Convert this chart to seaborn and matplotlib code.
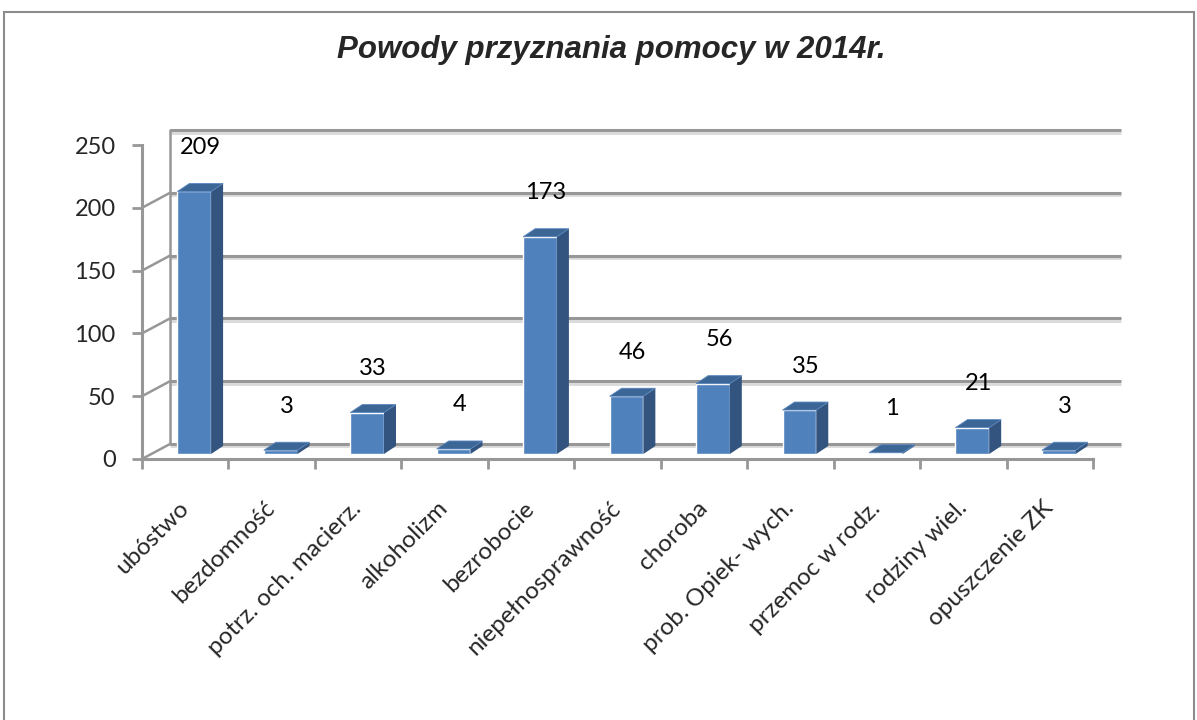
import matplotlib
matplotlib.use("Agg")
import matplotlib.pyplot as plt
import matplotlib.transforms as mtransforms
from matplotlib.patches import Polygon, Rectangle
import pandas as pd
import seaborn as sns

categories = ["ubóstwo", "bezdomność", "potrz. och. macierz.", "alkoholizm",
              "bezrobocie", "niepełnosprawność", "choroba", "prob. Opiek- wych.",
              "przemoc w rodz.", "rodziny wiel.", "opuszczenie ZK"]
values = [209, 3, 33, 4, 173, 46, 56, 35, 1, 21, 3]
yticks = [0, 50, 100, 150, 200, 250]
title = "Powody przyznania pomocy w 2014r."

df = pd.DataFrame({"powod": categories, "liczba": values})

sns.set_style("white")
plt.rcParams["font.family"] = ["Lato", "DejaVu Sans"]

W, H = 1197, 720
fig = plt.figure(figsize=(W / 100, H / 100), dpi=100)
fig.patch.set_facecolor("white")

# chart frame
fig.patches.append(Rectangle((4 / W, -0.05), 1190 / W, 1.05 - 12 / H,
                             transform=fig.transFigure, fill=False,
                             edgecolor="#8c8c8c", linewidth=1.5))

ax = fig.add_axes([142 / W, 1 - 459 / H, 951 / W, 314 / H])
ax.set_facecolor("none")

n = len(categories)
sns.barplot(data=df, x="powod", y="liczba", color="#4F81BD", width=0.39,
            saturation=1, ax=ax, zorder=3)
ax.set_xlim(-0.5, n - 0.5)
ax.set_ylim(0, 250)

grid_c = "#979797"
px = fig.dpi_scale_trans
back = ax.transData + mtransforms.ScaledTranslation(28 / 100, 15 / 100, px)
shadow = ax.transData + mtransforms.ScaledTranslation(28 / 100, 12.5 / 100, px)
bar_off = ax.transData + mtransforms.ScaledTranslation(9 / 100, 5 / 100, px)

# back wall gridlines + left wall diagonals
for t in yticks:
    ax.plot([-0.5, n - 0.5], [t, t], transform=shadow, color="#d9d9d9", lw=2,
            zorder=0, clip_on=False, solid_capstyle="butt")
    ax.plot([-0.5, n - 0.5], [t, t], transform=back, color=grid_c, lw=2.2,
            zorder=0, clip_on=False, solid_capstyle="butt")
    p0 = ax.transData.transform((-0.5, t))
    p1 = back.transform((-0.5, t))
    ax.add_line(plt.Line2D([p0[0], p1[0]], [p0[1], p1[1]], transform=None,
                           color=grid_c, lw=1.8, zorder=0))
# back left vertical edge
ax.plot([-0.5, -0.5], [0, 250], transform=back, color=grid_c, lw=1.8,
        zorder=0, clip_on=False)
# right floor edge
p0 = ax.transData.transform((n - 0.5, 0))
p1 = back.transform((n - 0.5, 0))
ax.add_line(plt.Line2D([p0[0], p1[0]], [p0[1], p1[1]], transform=None,
                       color=grid_c, lw=1.8, zorder=0))

dx, dy = 12, 8
for patch, v in zip(list(ax.patches), values):
    patch.set_transform(bar_off)
    patch.set_clip_on(False)
    x0, w, h = patch.get_x(), patch.get_width(), patch.get_height()
    br = bar_off.transform((x0 + w, 0))
    tl = bar_off.transform((x0, h))
    tr = bar_off.transform((x0 + w, h))
    side = [br, tr, (tr[0] + dx, tr[1] + dy), (br[0] + dx, br[1] + dy)]
    top = [tl, tr, (tr[0] + dx, tr[1] + dy), (tl[0] + dx, tl[1] + dy)]
    ax.add_patch(Polygon(side, closed=True, transform=None, facecolor="#32547F",
                         edgecolor="none", zorder=4, clip_on=False))
    ax.add_patch(Polygon(top, closed=True, transform=None, facecolor="#3B6696",
                         edgecolor="#5a87bf", lw=0.6, zorder=4, clip_on=False))
    ax.annotate(str(v), xy=(x0 + w / 2, h), xycoords=bar_off,
                xytext=(6, 44), textcoords="offset pixels",
                ha="center", va="center", fontsize=17, color="black")

ax.set_yticks(yticks)
ax.set_yticklabels([str(t) for t in yticks], fontsize=17)
ax.set_xticks(range(n))
ax.set_xticklabels(categories, rotation=45, ha="right", va="center",
                   rotation_mode="anchor", fontsize=17.5)
for lbl in ax.get_xticklabels():
    lbl.set_transform(lbl.get_transform()
                      + mtransforms.ScaledTranslation(-7 / 100, 2 / 100, px))
ax.set_xticks([i - 0.5 for i in range(n + 1)], minor=True)
ax.tick_params(axis="x", which="major", length=0, pad=33)
ax.tick_params(axis="x", which="minor", length=7, width=2, color=grid_c,
               direction="out", bottom=True)
ax.tick_params(axis="y", length=7, width=2, color=grid_c, direction="out",
               pad=12, left=True)
ax.set_xlabel("")
ax.set_ylabel("")
for s in ["top", "right"]:
    ax.spines[s].set_visible(False)
for s in ["left", "bottom"]:
    ax.spines[s].set_color(grid_c)
    ax.spines[s].set_linewidth(2.2)

fig.text(611 / W, 1 - 50 / H, title, ha="center", va="center", fontsize=22.5,
         style="italic", weight="bold", family=["Liberation Sans", "DejaVu Sans"])

fig.savefig("out.png", dpi=100)
